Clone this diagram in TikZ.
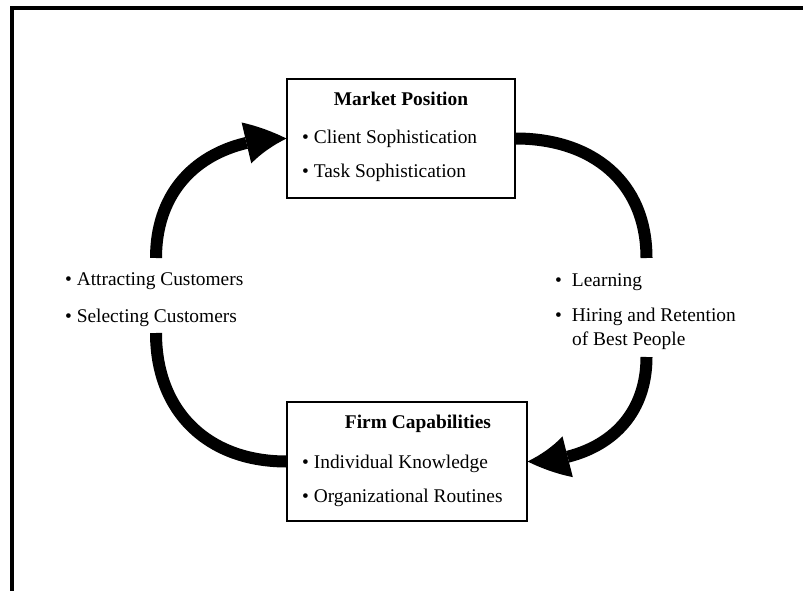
\documentclass[tikz,border=0pt]{standalone}
\usepackage{fontspec}
\setmainfont{Liberation Serif}
\usetikzlibrary{arrows.meta,bending}

\tikzstyle{itemtext} = [anchor=base west,inner sep=0pt,font=\fontsize{19.4}{23}\selectfont]
\tikzstyle{titletext} = [anchor=base,inner sep=0pt,font=\fontsize{19.4}{23}\selectfont\bfseries]
\tikzstyle{block} = [draw,line width=1.2pt,minimum width=228pt,minimum height=119pt,inner sep=0pt]
\tikzstyle{cycle edge} = [draw,line width=12pt,looseness=1.1,-]
\tikzstyle{cycle arrow} = [cycle edge,-{Triangle[length=42pt,width=42pt,line width=0pt,bend]}]
\tikzstyle{frame} = [draw,line width=4pt]

\begin{document}
\begin{tikzpicture}[x=1pt,y=-1pt]
      \useasboundingbox (0,0) rectangle (803,591);
      %frame
      \draw[frame] (12,591) -- (12,8) -- (803,8);
      %boxes
      \node[block] (market) at (401,138.5) {};
      \node[block, minimum width=240pt] (firm) at (407,461.5) {};
      \node[titletext] (mtitle) at (401,106) {Market Position};
      \node[titletext] (ftitle) at (418,428) {Firm Capabilities};
      %bullet items
      \foreach \nodename/\x/\y/\words in {
        mclient/302/143/Client Sophistication,
        mtask/302/177/Task Sophistication,
        findiv/302/468/Individual Knowledge,
        forg/302/502/Organizational Routines,
        lattract/65/285/Attracting Customers,
        lselect/65/322/Selecting Customers}
      {
        \node[itemtext] (\nodename) at (\x,\y) {\textbullet\ \words};
      };
      \node[itemtext] (rlearn) at (555,286) {\textbullet\hspace{10pt}Learning};
      \node[itemtext] (rhire) at (555,321) {\textbullet\hspace{10pt}Hiring and Retention};
      \node[itemtext] (rbest) at (572,345) {of Best People};
      %arc ends
      \coordinate (lefttop) at (156,258);
      \coordinate (leftbot) at (156,333);
      \coordinate (righttop) at (646.5,258);
      \coordinate (rightbot) at (646.5,357);
      %edges
      \path
      (lefttop) edge[cycle arrow,out=90,in=180] (market.west)
      (market.east) edge[cycle edge,out=0,in=90] (righttop)
      (rightbot) edge[cycle arrow,out=-90,in=0] (firm.east)
      (leftbot) edge[cycle edge,out=-90,in=180] (firm.west);
\end{tikzpicture}
\end{document}
